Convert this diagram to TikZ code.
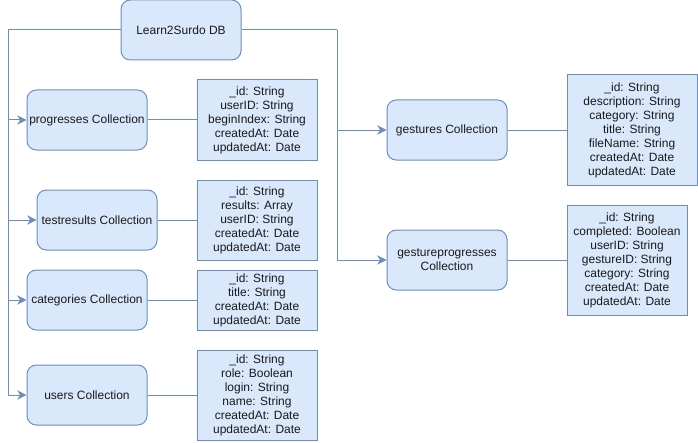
\documentclass[tikz,border=0pt]{standalone}
\usepackage{fontspec}
\setmainfont{Liberation Sans}
\usetikzlibrary{arrows.meta}
\definecolor{boxfill}{HTML}{DAE8FC}
\definecolor{boxdraw}{HTML}{6C8EBF}
\definecolor{txt}{HTML}{1A1A1A}
\begin{document}
\begin{tikzpicture}[x=0.75pt,y=-0.75pt,
  base/.style={draw=boxdraw,fill=boxfill,line width=0.75pt,inner sep=1pt,align=center,
    text=txt,font=\fontsize{9pt}{10.5pt}\selectfont},
  coll/.style={base,rounded corners=7pt,minimum width=90pt,minimum height=45pt},
  attr/.style={base,minimum width=90pt},
  link/.style={draw=boxdraw,line width=0.75pt},
  arr/.style={link,-{Stealth[length=7pt,width=7pt,inset=2.2pt]}}]
\useasboundingbox (0,0) rectangle (698,442);
\node[coll] (db) at (181,30) {Learn2Surdo DB};
\node[coll] (prog) at (87,120) {progresses Collection};
\node[coll] (test) at (97,220) {testresults Collection};
\node[coll] (cat) at (87,300) {categories Collection};
\node[coll] (users) at (87,395) {users Collection};
\node[coll] (gest) at (447,130) {gestures Collection};
\node[coll] (gp) at (447,260) {gestureprogresses\\Collection};
\node[attr,minimum height=60pt] (progA) at (257,120) {\_id: String\\userID: String\\beginIndex: String\\createdAt: Date\\updatedAt: Date};
\node[attr,minimum height=60pt] (testA) at (257,220) {\_id: String\\results: Array\\userID: String\\createdAt: Date\\updatedAt: Date};
\node[attr,minimum height=45pt] (catA) at (257,300) {\_id: String\\title: String\\createdAt: Date\\updatedAt: Date};
\node[attr,minimum height=67.5pt] (usersA) at (257,395) {\_id: String\\role: Boolean\\login: String\\name: String\\createdAt: Date\\updatedAt: Date};
\node[attr,minimum width=97.5pt,minimum height=82.5pt] (gestA) at (632,130) {\_id: String\\description: String\\category: String\\title: String\\fileName: String\\createdAt: Date\\updatedAt: Date};
\node[attr,minimum height=82.5pt] (gpA) at (627,260) {\_id: String\\completed: Boolean\\userID: String\\gestureID: String\\category: String\\createdAt: Date\\updatedAt: Date};
\coordinate (lt) at (8,30);
\coordinate (rt) at (337,30);
\draw[link] (db.west) -- (lt);
\draw[arr] (lt) |- (prog.west);
\draw[arr] (lt) |- (test.west);
\draw[arr] (lt) |- (cat.west);
\draw[arr] (lt) |- (users.west);
\draw[link] (db.east) -- (rt);
\draw[arr] (rt) |- (gest.west);
\draw[arr] (rt) |- (gp.west);
\draw[link] (prog) -- (progA);
\draw[link] (test) -- (testA);
\draw[link] (cat) -- (catA);
\draw[link] (users) -- (usersA);
\draw[link] (gest) -- (gestA);
\draw[link] (gp) -- (gpA);
\end{tikzpicture}
\end{document}
